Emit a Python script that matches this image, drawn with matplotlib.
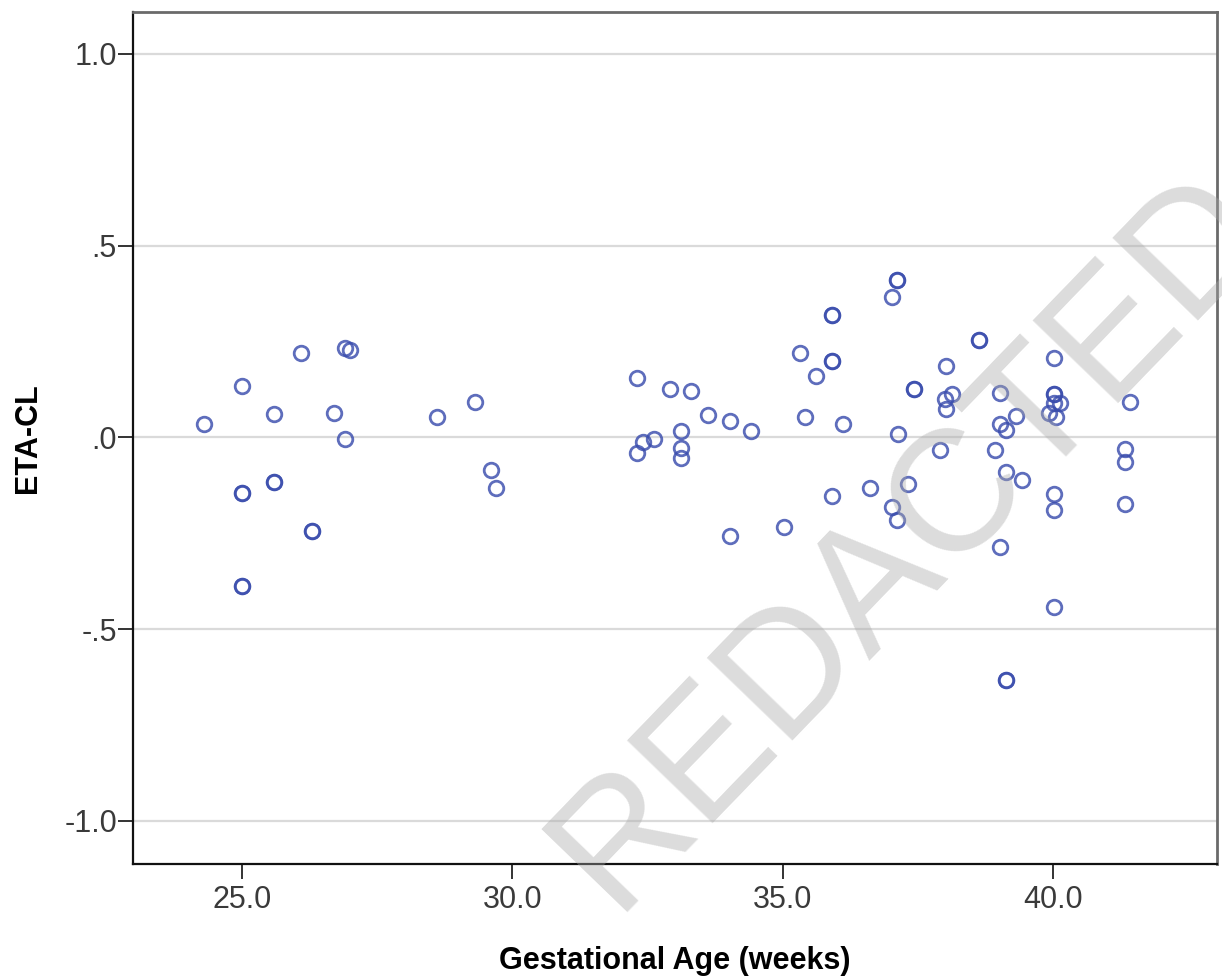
import matplotlib.pyplot as plt

plt.rcParams['font.family'] = ['Liberation Sans', 'DejaVu Sans']

# gestational age (weeks) and ETA-CL
ga = [24.30, 25.00, 25.00, 25.00, 25.00, 25.00, 25.59, 25.59, 25.59, 26.09,
      26.29, 26.29, 26.70, 26.90, 26.99, 26.90, 28.60, 29.31, 29.60, 29.69,
      32.30, 32.30, 32.41, 32.62, 32.91, 33.30, 33.11, 33.11, 33.11, 33.61,
      34.02, 34.41, 34.02, 35.02, 35.31, 35.41, 35.61, 35.91, 35.91, 35.91,
      35.91, 35.91, 36.11, 36.61, 37.01, 37.10, 37.10, 37.01, 37.10, 37.13,
      37.31, 37.42, 37.42, 37.90, 38.01, 37.99, 38.01, 38.12, 38.62, 38.62,
      38.92, 39.01, 39.01, 39.12, 39.12, 39.01, 39.12, 39.12, 39.31, 39.42,
      39.92, 40.01, 40.01, 40.01, 40.12, 40.05, 40.01, 40.01, 40.01, 40.01,
      41.32, 41.32, 41.32, 41.41]
eta_cl = [0.034, 0.135, -0.146, -0.146, -0.388, -0.388, 0.060, -0.117, -0.117, 0.219,
          -0.245, -0.245, 0.0625, 0.234, 0.229, -0.005, 0.052, 0.091, -0.086, -0.133,
          0.154, -0.042, -0.013, -0.005, 0.125, 0.122, 0.016, -0.029, -0.055, 0.057,
          0.042, 0.016, -0.258, -0.234, 0.219, 0.052, 0.161, 0.318, 0.318, 0.200,
          0.200, -0.154, 0.034, -0.133, 0.365, 0.409, 0.409, -0.182, -0.216, 0.010,
          -0.122, 0.125, 0.125, -0.034, 0.185, 0.099, 0.073, 0.112, 0.253, 0.253,
          -0.034, 0.115, 0.036, 0.018, -0.091, -0.286, -0.633, -0.633, 0.055, -0.112,
          0.0625, 0.206, 0.112, 0.112, 0.089, 0.052, -0.148, -0.190, -0.443, 0.089,
          -0.031, -0.065, -0.174, 0.091]

yticks = [1.0, 0.5, 0.0, -0.5, -1.0]
ytick_labels = ['1.0', '.5', '.0', '-.5', '-1.0']
xticks = [25.0, 30.0, 35.0, 40.0]
xtick_labels = ['25.0', '30.0', '35.0', '40.0']

fig = plt.figure(figsize=(12.22, 9.76), dpi=100)
ax = fig.add_axes([0.1088, 0.1148, 0.887, 0.8730])

ax.plot(ga, eta_cl, linestyle='none', marker='o', markersize=10.5,
        markerfacecolor='none', markeredgecolor='#3A4DAD',
        markeredgewidth=2.0, alpha=0.82, zorder=3)

ax.set_xlim(22.985, 43.02)
ax.set_ylim(-1.112, 1.109)
ax.set_yticks(yticks)
ax.set_yticklabels(ytick_labels)
ax.set_xticks(xticks)
ax.set_xticklabels(xtick_labels)
ax.grid(axis='y', color='#dadada', linewidth=1.6, zorder=0)
ax.set_axisbelow(True)

ax.tick_params(axis='both', direction='out', length=10.5, width=1.4,
               color='#333333', labelsize=22, labelcolor='#3a3a3a')
ax.tick_params(axis='y', pad=1)
ax.tick_params(axis='x', pad=5)

for side in ['left', 'bottom']:
    ax.spines[side].set_color('#111111')
    ax.spines[side].set_linewidth(1.6)
for side in ['top', 'right']:
    ax.spines[side].set_color('#6a6a6a')
    ax.spines[side].set_linewidth(2.0)

ax.set_xlabel('Gestational Age (weeks)', fontsize=22, fontweight='bold', labelpad=22)
ax.set_ylabel('ETA-CL', fontsize=22, fontweight='bold', labelpad=15)

# watermark
fig.text(0.745, 0.447, 'REDACTED', fontsize=124, color='#a8a8a8', alpha=0.4,
         rotation=46, ha='center', va='center', zorder=10)

fig.savefig('out.png', dpi=100)
